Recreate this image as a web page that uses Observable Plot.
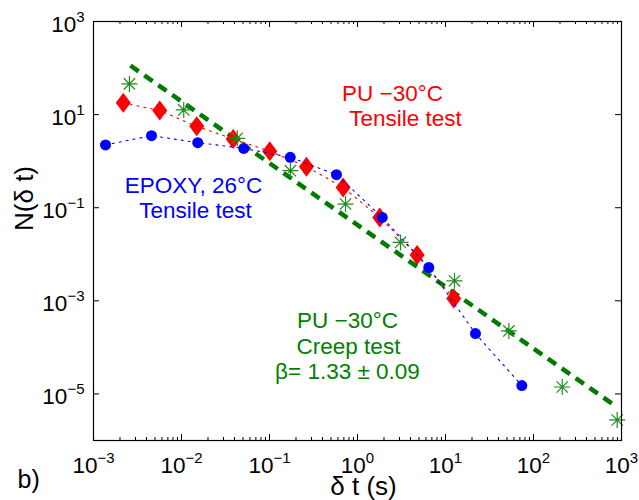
<!DOCTYPE html>
<html><head><meta charset="utf-8">
<script src="https://cdn.jsdelivr.net/npm/d3@7"></script>
<script src="https://cdn.jsdelivr.net/npm/@observablehq/plot@0.6"></script>
<style>html,body{margin:0;padding:0;background:#fff}</style>
</head><body><div id="chart"></div>
<script>
// ---- data ----
const epoxyT = [0.00137, 0.00456, 0.0153, 0.051, 0.172, 0.577, 1.91, 6.46, 21.9, 73.6];
const epoxyN = [2.23, 3.53, 2.50, 1.88, 1.21, 0.513, 0.0618, 0.0052, 1.98e-4, 1.51e-5];
const puTensileT = [0.00218, 0.00566, 0.0149, 0.0387, 0.1007, 0.263, 0.687, 1.79, 4.76, 12.4];
const puTensileN = [17.9, 12.2, 5.6, 3.0, 1.63, 0.762, 0.273, 0.0618, 0.0096, 0.00112];
const puCreepT = [0.00256, 0.0106, 0.043, 0.173, 0.731, 3.08, 12.65, 52.5, 212, 893];
const puCreepN = [45.7, 12.6, 3.09, 0.625, 0.12, 0.018, 0.00269, 2.26e-4, 1.41e-5, 2.76e-6];
const fitT = [0.00263, 853];
const fitN = [113, 5.5e-6];
const xTickValues = [1e-3, 1e-2, 1e-1, 1e0, 1e1, 1e2, 1e3];
const yTickValues = [1e-5, 1e-3, 1e-1, 1e1, 1e3];
const xMinorTicks = [];
for (let e = -3; e < 3; e++) for (let m = 2; m <= 9; m++) xMinorTicks.push(m * Math.pow(10, e));
const annotations = [
  {text: "PU −30°C", t: 2.5, n: 20, color: "red"},
  {text: "Tensile test", t: 3.51, n: 5.8, color: "red"},
  {text: "EPOXY, 26°C", t: 0.0137, n: 0.21, color: "blue"},
  {text: "Tensile test", t: 0.0144, n: 0.061, color: "blue"},
  {text: "PU −30°C", t: 0.77, n: 2.62e-4, color: "#008000"},
  {text: "Creep test", t: 0.79, n: 7.2e-5, color: "#008000"},
  {text: "β= 1.33 ± 0.09", t: 0.77, n: 2.1e-5, color: "#008000"}
];

const rows = (T, N) => T.map((t, i) => ({t, n: N[i]}));

// custom symbols
const tallDiamond = {draw(ctx, size) {
  const r = Math.sqrt(size / Math.PI);
  ctx.moveTo(0, -r); ctx.lineTo(r * 0.75, 0); ctx.lineTo(0, r); ctx.lineTo(-r * 0.75, 0); ctx.closePath();
}};
const star8 = {draw(ctx, size) {
  const r = Math.sqrt(size / Math.PI), d = r * Math.SQRT1_2;
  ctx.moveTo(-r, 0); ctx.lineTo(r, 0);
  ctx.moveTo(0, -r); ctx.lineTo(0, r);
  ctx.moveTo(-d, -d); ctx.lineTo(d, d);
  ctx.moveTo(-d, d); ctx.lineTo(d, -d);
}};

const W = 639, H = 500, mL = 93, mR = 18, mT = 21, mB = 60;
const PW = W - mL - mR, PH = H - mT - mB;
const expFmt = d => "10^" + String(Math.round(Math.log10(d))).replace("-", "−");

const svg = Plot.plot({
  width: W, height: H,
  marginLeft: mL, marginRight: mR, marginTop: mT, marginBottom: mB,
  x: {type: "log", domain: [1e-3, 1e3]},
  y: {type: "log", domain: [1e-6, 1e3]},
  style: {fontFamily: "'Liberation Sans', Arial, Helvetica, sans-serif", fontSize: "22.5px", background: "white", color: "black", overflow: "visible"},
  marks: [
    // fit line
    Plot.line(rows(fitT, fitN), {x: "t", y: "n", stroke: "#007a00", strokeWidth: 4.5, strokeDasharray: "10 7", strokeLinecap: "butt"}),
    // PU tensile
    Plot.line(rows(puTensileT, puTensileN), {x: "t", y: "n", stroke: "red", strokeWidth: 1.1, strokeDasharray: "2 5"}),
    Plot.dot(rows(puTensileT, puTensileN), {x: "t", y: "n", symbol: tallDiamond, r: 10, fill: "red", stroke: "none"}),
    // epoxy
    Plot.line(rows(epoxyT, epoxyN), {x: "t", y: "n", stroke: "blue", strokeWidth: 1.1, strokeDasharray: "2 5"}),
    Plot.dot(rows(epoxyT, epoxyN), {x: "t", y: "n", r: 5.5, fill: "blue", stroke: "none"}),
    // PU creep
    Plot.dot(rows(puCreepT, puCreepN), {x: "t", y: "n", symbol: star8, r: 8, fill: "none", stroke: "#1e8c1e", strokeWidth: 1.2}),
    // inward ticks
    Plot.tickX(xTickValues, {x: d => d, insetTop: PH - 6, stroke: "black"}),
    Plot.tickX(xTickValues, {x: d => d, insetBottom: PH - 6, stroke: "black"}),
    Plot.tickX(xMinorTicks, {x: d => d, insetTop: PH - 3, stroke: "black"}),
    Plot.tickX(xMinorTicks, {x: d => d, insetBottom: PH - 3, stroke: "black"}),
    Plot.tickY(yTickValues, {y: d => d, insetRight: PW - 6, stroke: "black"}),
    Plot.tickY(yTickValues, {y: d => d, insetLeft: PW - 6, stroke: "black"}),
    Plot.frame({stroke: "black", strokeWidth: 1.2}),
    // tick labels
    Plot.axisX({ticks: xTickValues, tickSize: 0, tickPadding: 17, tickFormat: expFmt, label: null, fontSize: 22.5}),
    Plot.axisY({ticks: yTickValues, tickSize: 0, tickPadding: 9, tickFormat: expFmt, label: null, fontSize: 22.5, dy: 3}),
    // axis titles
    Plot.text(["δ t (s)"], {frameAnchor: "bottom", text: d => d, lineAnchor: "bottom", dx: 6, dy: 54, fontSize: 26}),
    Plot.text(["N(δ t)"], {frameAnchor: "left", text: d => d, rotate: -90, lineAnchor: "bottom", dx: -61, dy: 0, fontSize: 26}),
    Plot.text(["b)"], {frameAnchor: "bottom-left", text: d => d, textAnchor: "start", lineAnchor: "bottom", dx: -76, dy: 47, fontSize: 25}),
    // annotations
    Plot.text(annotations, {x: "t", y: "n", text: "text", fill: "color", lineAnchor: "bottom", textAnchor: "middle", fontSize: 22.5})
  ]
});

function superscript(sel) {
  const ns = "http://www.w3.org/2000/svg";
  svg.querySelectorAll(sel).forEach(t => {
    const [b, e] = t.textContent.split("^");
    t.textContent = "";
    const a = document.createElementNS(ns, "tspan"); a.textContent = b; t.appendChild(a);
    const c = document.createElementNS(ns, "tspan"); c.textContent = e;
    c.setAttribute("dy", "-10"); c.setAttribute("font-size", "15"); t.appendChild(c);
  });
}
superscript('g[aria-label="x-axis tick label"] text');
superscript('g[aria-label="y-axis tick label"] text');

document.getElementById("chart").appendChild(svg);
</script>
</body></html>
